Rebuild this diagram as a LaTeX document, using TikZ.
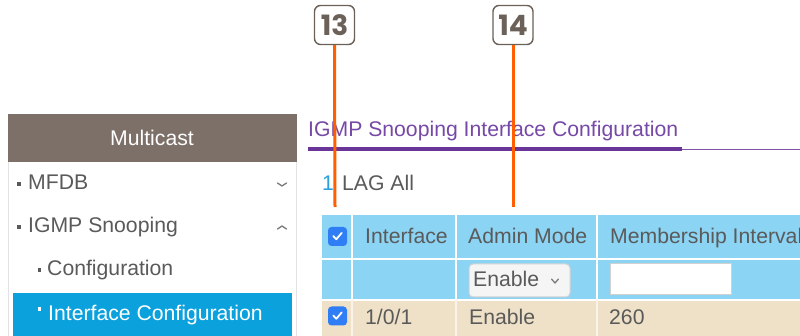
\documentclass[tikz,border=0pt]{standalone}
\usepackage{fontspec}
\setmainfont{Liberation Sans}
\newfontfamily\calloutfont{Poppins}
\definecolor{menuhead}{HTML}{7C7068}
\definecolor{menuline}{HTML}{E2E2E2}
\definecolor{menusel}{HTML}{0BA1DD}
\definecolor{txtgray}{HTML}{5A5A5A}
\definecolor{titlepurple}{HTML}{7649A6}
\definecolor{rulepurple}{HTML}{6A3598}
\definecolor{linkblue}{HTML}{2A9FE0}
\definecolor{headblue}{HTML}{8BD4F4}
\definecolor{rowbeige}{HTML}{EFE1C7}
\definecolor{boxblue}{HTML}{2F7EF5}
\definecolor{calloutgray}{HTML}{6B6158}
\definecolor{leader}{HTML}{FF5F00}
\definecolor{fieldgray}{HTML}{F5F5F5}
\tikzset{
  txt/.style={anchor=base west, inner sep=0pt, font=\fontsize{21.2}{24}\selectfont, text=txtgray},
  callout/.style={draw=calloutgray, line width=1.4pt, rounded corners=6pt, minimum width=40pt, minimum height=39pt, inner sep=0pt, fill=white, text=calloutgray, font=\calloutfont\bfseries\fontsize{28}{30}\selectfont},
  leaderline/.style={draw=leader, line width=3pt},
  bullet/.style={fill=#1, minimum size=3.6pt, inner sep=0pt},
  chev/.style={draw=txtgray!80, line width=1.3pt, line cap=round, line join=round},
  tick/.style={fill=boxblue, rounded corners=3.5pt, minimum size=19pt, inner sep=0pt},
  cellrule/.style={draw=white, line width=1.6pt}
}
\newcommand{\checkmarkat}[1]{%
  \draw[white, line width=1.8pt, line cap=round, line join=round]
    ([shift={(-4.2pt,0.5pt)}]#1.center) -- ([shift={(-1.2pt,-2.8pt)}]#1.center) -- ([shift={(4.2pt,3.6pt)}]#1.center);}
\begin{document}
\begin{tikzpicture}[x=1pt,y=-1pt]
\useasboundingbox[fill=white] (0,0) rectangle (800,336);

% ---------- side menu ----------
\fill[menuhead] (8,114) rectangle (297,162);
\draw[menuline, line width=1pt] (8,162) -- (8,336);
\draw[menuline, line width=1pt] (296.5,162) -- (296.5,336);
\node[txt, text=white] (mhead) at (110,146) {Multicast};
\fill[menusel] (13,293) rectangle (292,336);

\node[bullet=txtgray] (b1) at (19,184) {};
\node[txt] (mfdb) at (28,190) {MFDB};
\node[bullet=txtgray] (b2) at (19,227) {};
\node[txt] (igmp) at (28,233) {IGMP Snooping};
\node[bullet=txtgray] (b3) at (39.5,270) {};
\node[txt] (conf) at (47,276) {Configuration};
\node[bullet=white] (b4) at (39.5,309) {};
\node[txt, text=white] (ifconf) at (48,320) {Interface Configuration};

% expand / collapse chevrons
\coordinate (c1) at (282,186);
\draw[chev] ([xshift=-4.5pt,yshift=3pt]c1) -- (c1) -- ([xshift=4.5pt,yshift=3pt]c1);
\coordinate (c2) at (282,226);
\draw[chev] ([xshift=-4.5pt,yshift=-3pt]c2) -- (c2) -- ([xshift=4.5pt,yshift=-3pt]c2);

% ---------- page title ----------
\node[txt, text=titlepurple] (title) at (308,137) {IGMP Snooping Interface Configuration};
\draw[rulepurple!85, line width=1.2pt] (308,149.5) -- (800,149.5);
\fill[rulepurple] (308,147) rectangle (682,151);

\node[txt, text=linkblue] (one) at (322,191) {1};
\node[txt] (lag) at (342,191) {LAG All};

% ---------- table ----------
\fill[headblue] (322,215) rectangle (800,300);
\fill[rowbeige] (322,300) rectangle (800,336);
\draw[cellrule] (322,259) -- (800,259);
\draw[cellrule] (322,300) -- (800,300);
\foreach \cx in {352,456,597}{
  \draw[cellrule] (\cx,215) -- (\cx,300);
  \draw[white!60!rowbeige, line width=1.2pt] (\cx,300) -- (\cx,336);
}

\node[tick] (chkall) at (337.5,236.5) {};
\checkmarkat{chkall}
\node[txt] (hif) at (365,244) {Interface};
\node[txt] (hadm) at (468,244) {Admin Mode};
\node[txt] (hmem) at (610,244) {Membership Interval};

\node[draw=black!18, fill=fieldgray, rounded corners=4pt, line width=1pt, minimum width=101pt, minimum height=33pt, inner sep=0pt] (sel) at (519.5,280.5) {};
\node[txt] (seltxt) at (473,287) {Enable};
\coordinate (c3) at (555,281);
\draw[chev] ([xshift=-3.5pt,yshift=2pt]c3) -- ([yshift=-2pt]c3) -- ([xshift=3.5pt,yshift=2pt]c3);
\node[draw=black!18, fill=white, line width=1pt, minimum width=121pt, minimum height=31pt, inner sep=0pt] (field) at (670.5,279.5) {};

\node[tick] (chk1) at (337.5,316) {};
\checkmarkat{chk1}
\node[txt] (port) at (365,325) {1/0/1};
\node[txt] (mode) at (469,325) {Enable};
\node[txt] (ival) at (609,325) {260};

% ---------- callouts ----------
\node[callout] (n13) at (334.5,25) {13};
\node[callout] (n14) at (513,25) {14};
\coordinate (t13) at (335,207);
\coordinate (t14) at (513,207);
\draw[leaderline] (n13.south) -- (t13);
\draw[leaderline] (n14.south) -- (t14);
\end{tikzpicture}
\end{document}
